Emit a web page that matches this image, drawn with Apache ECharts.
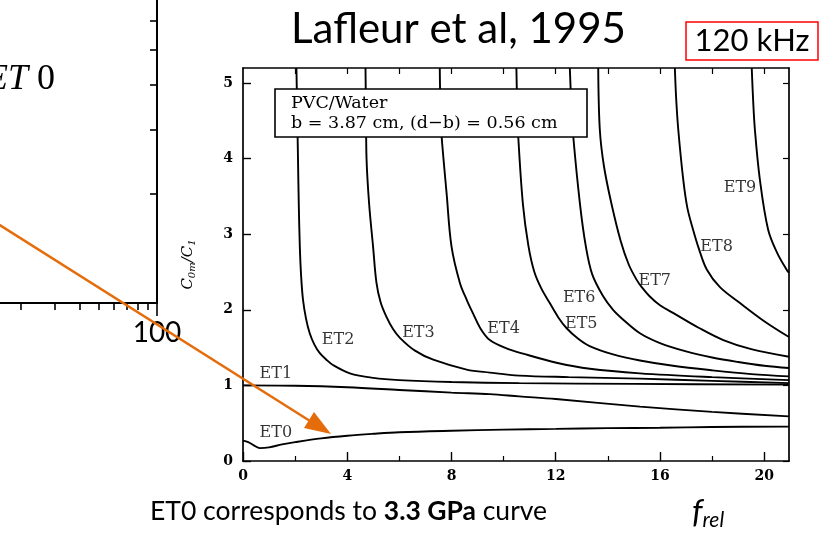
<!DOCTYPE html>
<html><head><meta charset="utf-8">
<script src="https://cdn.jsdelivr.net/npm/echarts@6/dist/echarts.min.js"></script>
<style>html,body{margin:0;padding:0;background:#fff}#c{width:823px;height:537px}</style>
</head><body><div id="c"></div>
<script>
// ---- data ----
const xTicks = [0, 4, 8, 12, 16, 20];
const xMinorTicks = [2, 6, 10, 14, 18];
const xTopTicks = [2, 4, 6, 8, 10, 12, 14, 16, 18, 20];
const yTicks = [0, 1, 2, 3, 4, 5];
// partial log-log panel on the left (values on a log10 scale)
const leftXTicks = [20, 30, 40, 50, 60, 70, 80, 90];
const leftXLabels = [100];
const leftYTicks = [2, 3, 4, 5, 6, 7, 8, 9];

const et0 = [[0,0.27],[0.2,0.25],[0.4,0.21],[0.65,0.17],[1.0,0.18],[1.5,0.22],[2,0.25],[3,0.30],[4,0.335],[5,0.36],[6,0.38],[8,0.40],[10,0.415],[12,0.425],[14,0.435],[16,0.44],[18,0.45],[20.95,0.455]];
const et1 = [[0,1.0],[2,0.995],[4,0.975],[6,0.94],[8,0.905],[9.47,0.885],[10.6,0.855],[12,0.82],[15.23,0.72],[18,0.65],[20.95,0.59]];
const et2 = [[2.05,5.2],[2.08,4.6],[2.11,4.0],[2.14,3.4],[2.18,2.84],[2.23,2.45],[2.30,2.14],[2.42,1.88],[2.56,1.69],[2.74,1.54],[2.94,1.43],[3.2,1.34],[3.45,1.27],[4.1,1.16],[5,1.10],[6,1.07],[8,1.045],[10.6,1.03],[15,1.02],[20.95,1.01]];
const et3 = [[4.70,5.2],[4.72,4.6],[4.74,4.0],[4.84,3.4],[4.99,2.84],[5.12,2.36],[5.28,2.1],[5.5,1.91],[5.75,1.75],[6.02,1.63],[6.6,1.46],[7.3,1.34],[8.58,1.21],[9.47,1.17],[10.6,1.13],[12.5,1.11],[15.23,1.09],[18,1.06],[20.95,1.03]];
const et4 = [[7.55,5.2],[7.58,4.6],[7.62,4.3],[7.81,3.55],[8.0,2.84],[8.32,2.36],[8.6,2.12],[8.83,1.95],[9.1,1.76],[9.47,1.60],[10.11,1.49],[10.75,1.42],[12.03,1.30],[13.31,1.22],[15.23,1.16],[18,1.11],[20.95,1.07]];
const et5 = [[10.49,5.2],[10.52,4.7],[10.56,4.3],[10.74,3.40],[10.95,2.85],[11.18,2.5],[11.45,2.28],[11.77,2.09],[12.1,1.9],[12.41,1.76],[12.85,1.62],[13.3,1.52],[14.2,1.41],[15.23,1.33],[16.5,1.26],[18,1.2],[19.5,1.15],[20.95,1.12]];
const et6 = [[12.54,5.2],[12.6,4.7],[12.67,4.3],[12.93,3.40],[13.15,2.85],[13.4,2.47],[13.82,2.18],[14.2,2.0],[14.59,1.87],[15.23,1.69],[16,1.56],[17,1.45],[18,1.37],[19,1.31],[20,1.26],[20.95,1.23]];
const et7 = [[13.63,5.2],[13.69,4.39],[13.85,3.9],[14.14,3.40],[14.5,2.9],[14.8,2.6],[15.1,2.40],[15.3,2.30],[15.6,2.18],[16.0,2.06],[16.5,1.96],[17.5,1.76],[18.43,1.60],[19.5,1.48],[20.95,1.38]];
const et8 = [[16.57,5.2],[16.62,4.8],[16.7,4.39],[16.89,3.73],[17.05,3.35],[17.27,3.06],[17.5,2.8],[17.8,2.53],[18.3,2.3],[19.07,2.09],[20,1.85],[20.95,1.64]];
const et9 = [[19.52,5.2],[19.57,4.8],[19.64,4.39],[19.83,3.73],[20.15,3.06],[20.5,2.75],[20.86,2.53],[20.95,2.49]];

const curveNames = ['ET0','ET1','ET2','ET3','ET4','ET5','ET6','ET7','ET8','ET9'];
const curves = [et0, et1, et2, et3, et4, et5, et6, et7, et8, et9];
const labelPts = [[1.26,0.37],[1.26,1.15],[3.65,1.60],[6.73,1.70],[10.0,1.75],[12.98,1.81],[12.9,2.16],[15.8,2.38],[18.17,2.84],[19.07,3.61]];

// ---- chart ----
const chart = echarts.init(document.getElementById('c'), null, {renderer: 'canvas'});
const serif = '"DejaVu Serif", serif';
const ink = '#000';
const lg = v => Math.log10(v);

const lineSeries = curves.map((d, i) => ({
  type: 'line', name: curveNames[i], xAxisIndex: 0, yAxisIndex: 0,
  data: d, showSymbol: false, symbol: 'none', smooth: 0.35,
  lineStyle: {color: ink, width: 1.9}, clip: true, silent: true, z: 3
}));

const labelSeries = {
  type: 'scatter', xAxisIndex: 0, yAxisIndex: 0, symbolSize: 0, silent: true, z: 5,
  data: labelPts.map((p, i) => ({value: p, name: curveNames[i]})),
  label: {show: true, position: 'inside', formatter: p => p.name,
    fontFamily: serif, fontSize: 16, color: '#000'}
};

const axisLineStyle = {show: true, onZero: false, lineStyle: {color: '#000', width: 1.7}};
const leftLineStyle = {show: true, onZero: false, lineStyle: {color: '#000', width: 2}};

chart.setOption({
  animation: false,
  backgroundColor: '#fff',
  grid: [
    {left: 243, right: 34, top: 68, bottom: 76, containLabel: false, outerBoundsMode: 'none'},
    {left: -233, width: 390, top: -60, height: 363, containLabel: false, outerBoundsMode: 'none'}
  ],
  xAxis: [
    {gridIndex: 0, type: 'value', min: 0, max: 20.95, position: 'bottom',
     axisLine: axisLineStyle, splitLine: {show: false},
     axisTick: {show: true, inside: true, length: 9, customValues: xTicks, lineStyle: {color: '#000', width: 1.4}},
     axisLabel: {customValues: xTicks, fontFamily: serif, fontWeight: 'bold', fontSize: 14, color: '#000', margin: 8}},
    {gridIndex: 0, type: 'value', min: 0, max: 20.95, position: 'bottom',
     axisLine: {show: false, onZero: false}, splitLine: {show: false}, axisLabel: {show: false},
     axisTick: {show: true, inside: true, length: 5, customValues: xMinorTicks, lineStyle: {color: '#000', width: 1.2}}},
    {gridIndex: 0, type: 'value', min: 0, max: 20.95, position: 'top',
     axisLine: axisLineStyle, splitLine: {show: false}, axisLabel: {show: false},
     axisTick: {show: true, inside: true, length: 6, customValues: xTopTicks, lineStyle: {color: '#000', width: 1.2}}},
    {gridIndex: 1, type: 'value', min: 0, max: 2, position: 'bottom',
     axisLine: leftLineStyle, splitLine: {show: false},
     axisTick: {show: true, inside: false, length: 7, customValues: leftXTicks.map(lg), lineStyle: {color: '#000', width: 1.6}},
     axisLabel: {customValues: leftXLabels.map(lg), formatter: v => String(Math.round(Math.pow(10, v))),
       fontFamily: 'Lato', fontSize: 28, color: '#000', margin: 16}},
    {gridIndex: 1, type: 'value', min: 0, max: 2, position: 'bottom',
     axisLine: {show: false, onZero: false}, splitLine: {show: false}, axisLabel: {show: false},
     axisTick: {show: true, inside: false, length: 13, customValues: leftXLabels.map(lg), lineStyle: {color: '#000', width: 1.6}}}
  ],
  yAxis: [
    {gridIndex: 0, type: 'value', min: 0, max: 5.2, position: 'left',
     axisLine: axisLineStyle, splitLine: {show: false},
     axisTick: {show: true, inside: true, length: 8, customValues: yTicks, lineStyle: {color: '#000', width: 1.4}},
     axisLabel: {customValues: yTicks, fontFamily: serif, fontWeight: 'bold', fontSize: 14, color: '#000', margin: 10},
     name: '{c|C}{s|0m}{c|/C}{s|1}', nameLocation: 'middle', nameRotate: 90, nameGap: 46,
     nameTextStyle: {rich: {
       c: {fontFamily: serif, fontStyle: 'italic', fontSize: 15, color: '#000'},
       s: {fontFamily: serif, fontStyle: 'italic', fontSize: 10, color: '#000', padding: [8, 0, 0, 0]}
     }}},
    {gridIndex: 0, type: 'value', min: 0, max: 5.2, position: 'right',
     axisLine: axisLineStyle, splitLine: {show: false}, axisLabel: {show: false},
     axisTick: {show: true, inside: true, length: 6, customValues: yTicks, lineStyle: {color: '#000', width: 1.2}}},
    {gridIndex: 1, type: 'value', min: 0, max: 1, position: 'right',
     axisLine: leftLineStyle, splitLine: {show: false}, axisLabel: {show: false},
     axisTick: {show: true, inside: true, length: 7, customValues: leftYTicks.map(lg), lineStyle: {color: '#000', width: 1.6}}}
  ],
  series: [...lineSeries, labelSeries],
  graphic: [
    {type: 'rect', z: 100, shape: {x: 275, y: 89, width: 312, height: 48},
     style: {fill: '#fff', stroke: '#000', lineWidth: 1.6}},
    {type: 'text', z: 101, x: 291, y: 103,
     style: {text: 'PVC/Water', fontFamily: serif, fontSize: 17.5, fill: '#000', verticalAlign: 'middle'}},
    {type: 'text', z: 101, x: 291, y: 123,
     style: {text: 'b = 3.87 cm, (d\u2212b) = 0.56 cm', fontFamily: serif, fontSize: 17.5, fill: '#000', verticalAlign: 'middle'}},
    {type: 'text', z: 101, x: 291, y: 29,
     style: {text: 'Lafleur et al, 1995', fontFamily: 'Lato', fontSize: 42, fill: '#000', verticalAlign: 'middle'}},
    {type: 'rect', z: 100, shape: {x: 686, y: 22, width: 132, height: 38},
     style: {fill: 'none', stroke: '#ff0000', lineWidth: 1.5}},
    {type: 'text', z: 101, x: 752, y: 41,
     style: {text: '120 kHz', fontFamily: 'Lato', fontSize: 31, fill: '#000', align: 'center', verticalAlign: 'middle'}},
    {type: 'text', z: 101, x: 150, y: 511,
     style: {text: '{n|ET0 corresponds to }{b|3.3 GPa}{n| curve}', verticalAlign: 'middle',
       rich: {n: {fontFamily: 'Lato', fontSize: 26.5, color: '#000'},
              b: {fontFamily: 'Lato', fontSize: 26.5, fontWeight: 'bold', color: '#E46C0A'}}}},
    {type: 'text', z: 101, x: 692, y: 512,
     style: {text: '{f|f}{r|rel}', verticalAlign: 'middle',
       rich: {f: {fontFamily: 'Lato', fontStyle: 'italic', fontSize: 33, color: '#000'},
              r: {fontFamily: 'Lato', fontStyle: 'italic', fontSize: 21, color: '#000', padding: [16, 0, 0, 0]}}}},
    {type: 'text', z: 101, x: -14, y: 80,
     style: {text: '{i|ET}{n| 0}', verticalAlign: 'middle',
       rich: {i: {fontFamily: '"Liberation Serif", serif', fontStyle: 'italic', fontSize: 36, color: '#000'},
              n: {fontFamily: '"Liberation Serif", serif', fontSize: 36, color: '#000'}}}},
    {type: 'line', z: 200, shape: {x1: -5, y1: 222, x2: 310, y2: 421},
     style: {stroke: '#E46C0A', lineWidth: 2.5}},
    {type: 'polygon', z: 200, shape: {points: [[331, 434], [304, 428], [314, 412]]},
     style: {fill: '#E46C0A'}}
  ]
});
</script></body></html>
